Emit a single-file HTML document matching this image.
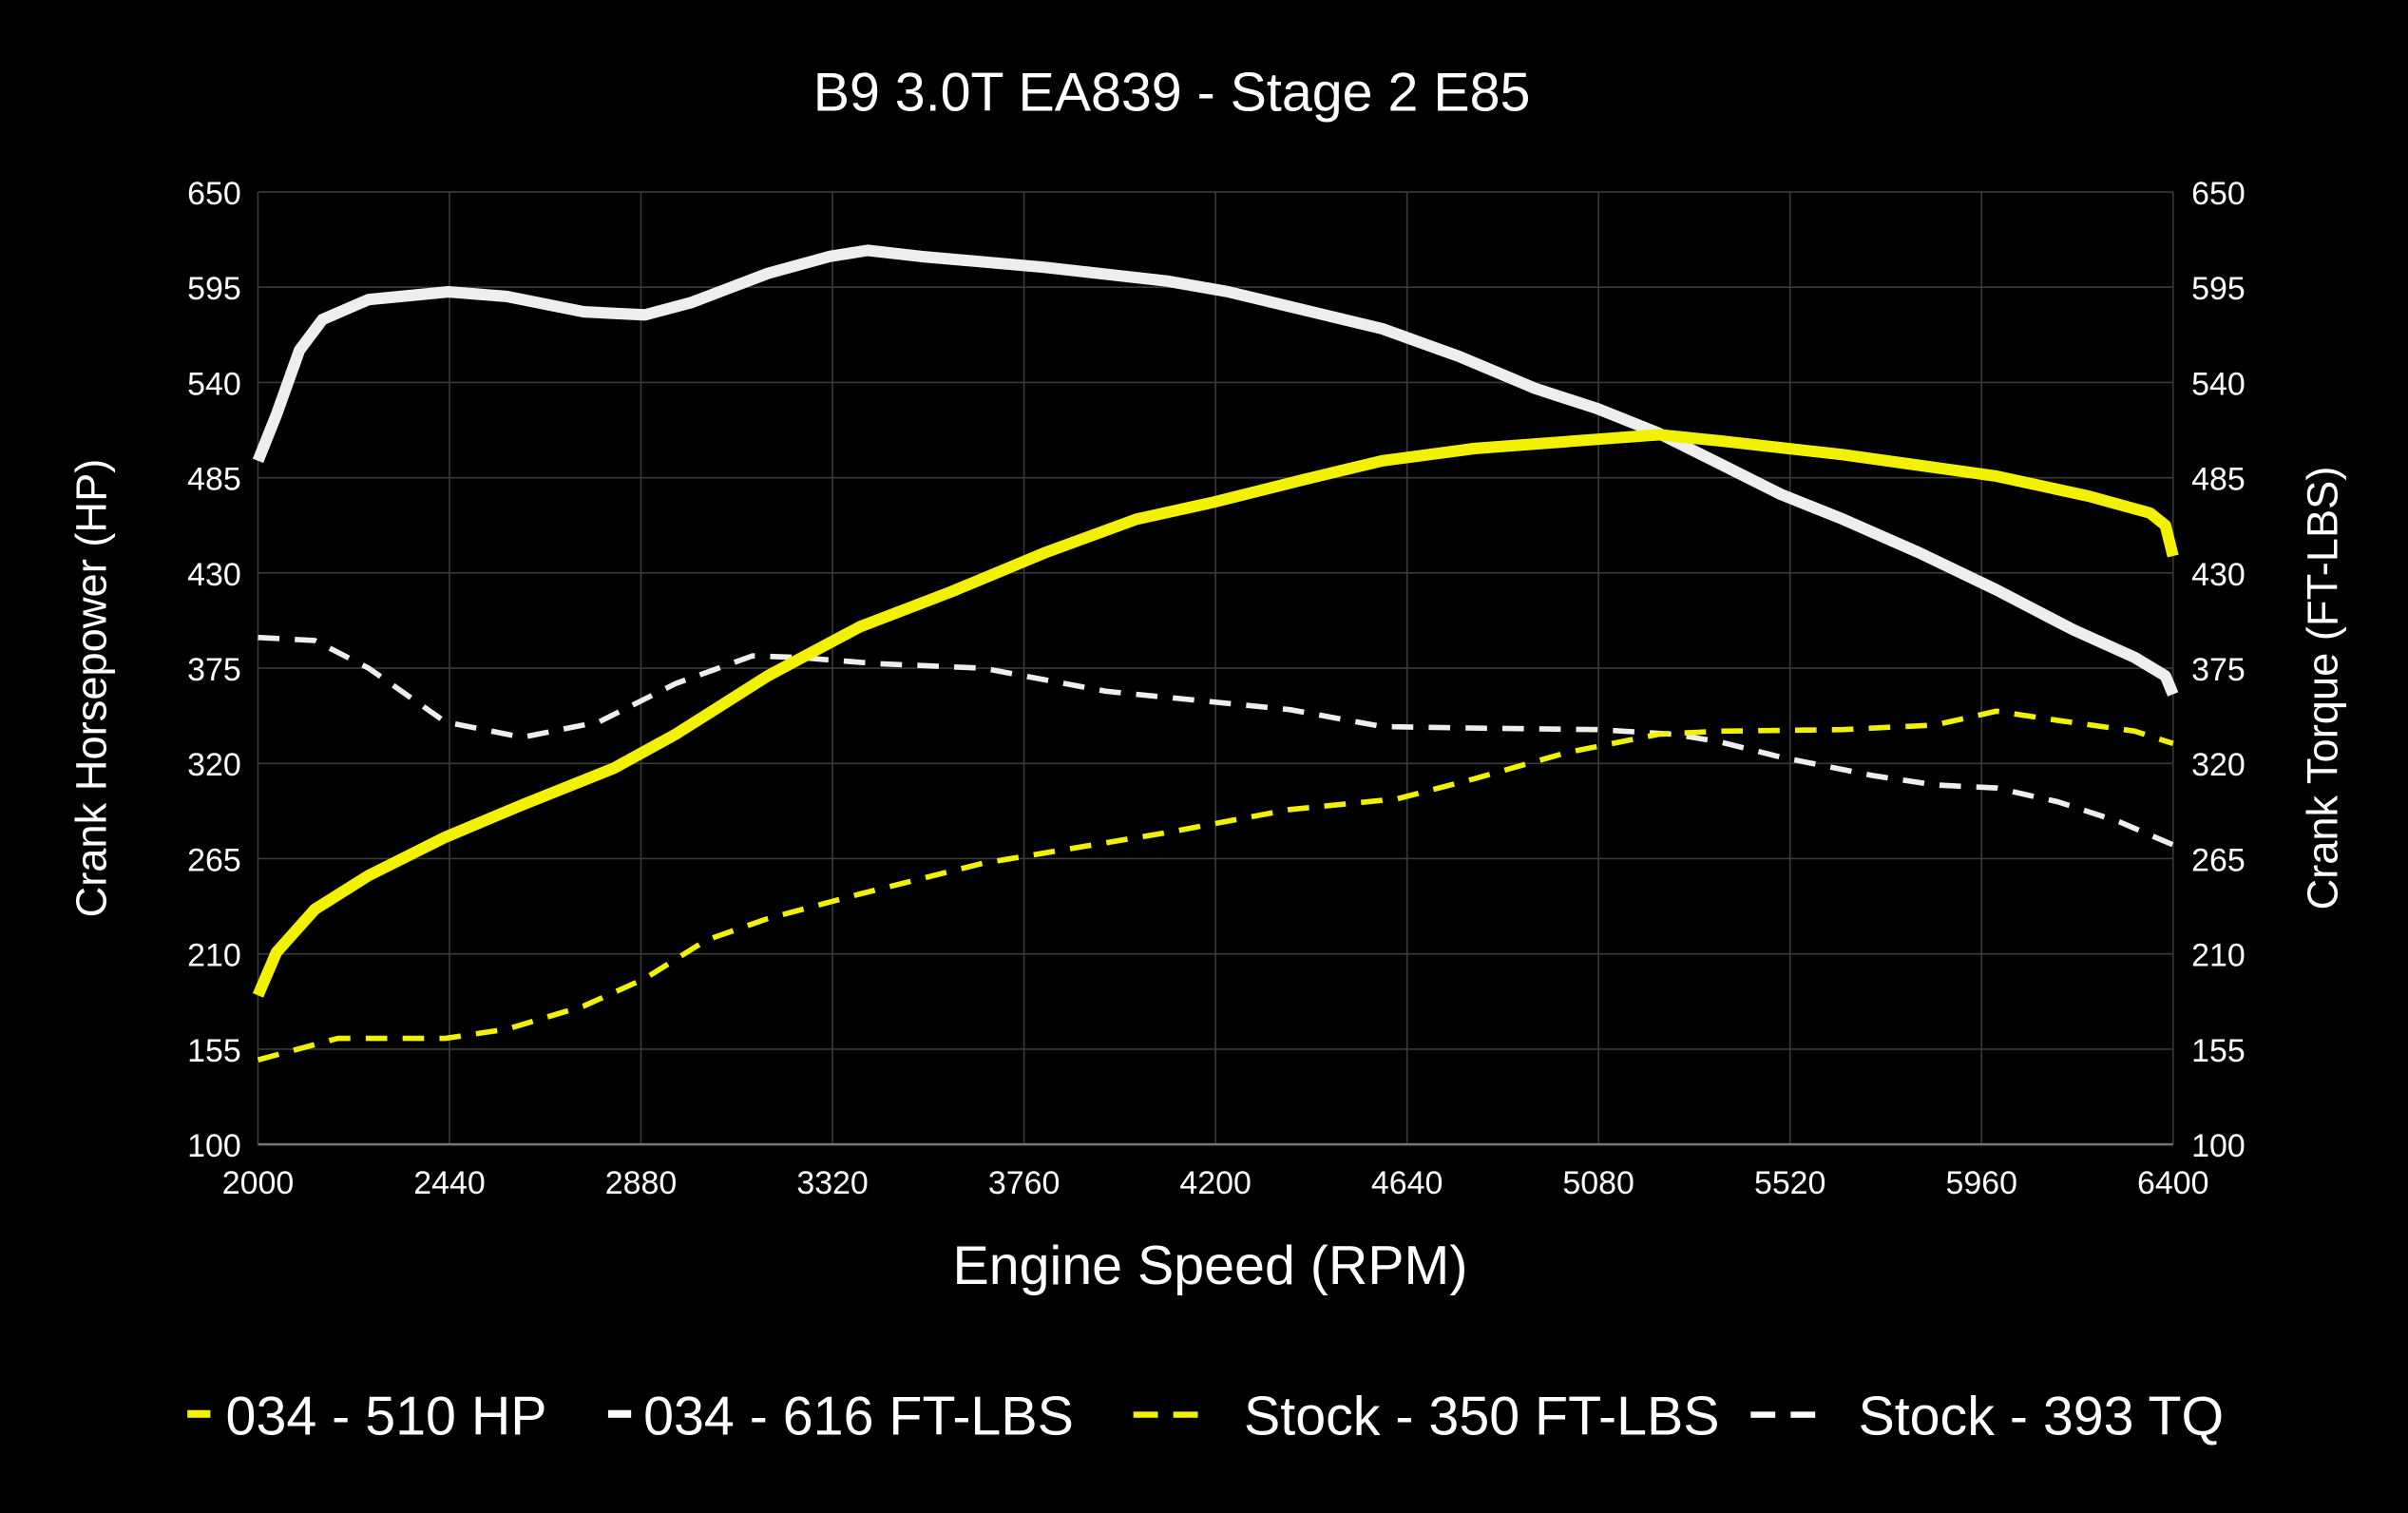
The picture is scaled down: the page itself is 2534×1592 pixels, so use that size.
<!DOCTYPE html>
<html><head><meta charset="utf-8"><style>
html,body{margin:0;padding:0;background:#000;}
svg{display:block;}
text{font-family:"Liberation Sans",sans-serif;fill:#fff;}
</style></head><body>
<svg width="2534" height="1592" viewBox="0 0 1568 985" preserveAspectRatio="none" xmlns="http://www.w3.org/2000/svg">
<rect width="1568" height="985" fill="#000"/>
<g stroke="#3a3a3a" stroke-width="1">
<line x1="168" y1="125" x2="1415" y2="125"/><line x1="168" y1="187" x2="1415" y2="187"/><line x1="168" y1="249" x2="1415" y2="249"/><line x1="168" y1="311" x2="1415" y2="311"/><line x1="168" y1="373" x2="1415" y2="373"/><line x1="168" y1="435" x2="1415" y2="435"/><line x1="168" y1="497" x2="1415" y2="497"/><line x1="168" y1="559" x2="1415" y2="559"/><line x1="168" y1="621" x2="1415" y2="621"/><line x1="168" y1="683" x2="1415" y2="683"/>
<line x1="168" y1="125" x2="168" y2="745"/><line x1="292.7" y1="125" x2="292.7" y2="745"/><line x1="417.4" y1="125" x2="417.4" y2="745"/><line x1="542.1" y1="125" x2="542.1" y2="745"/><line x1="666.8" y1="125" x2="666.8" y2="745"/><line x1="791.5" y1="125" x2="791.5" y2="745"/><line x1="916.2" y1="125" x2="916.2" y2="745"/><line x1="1040.9" y1="125" x2="1040.9" y2="745"/><line x1="1165.6" y1="125" x2="1165.6" y2="745"/><line x1="1290.3" y1="125" x2="1290.3" y2="745"/><line x1="1415" y1="125" x2="1415" y2="745"/>
</g>
<line x1="168" y1="745" x2="1415" y2="745" stroke="#777" stroke-width="1.5"/>
<text x="763" y="72" font-size="35.5" text-anchor="middle">B9 3.0T EA839 - Stage 2 E85</text>
<g font-size="21" text-anchor="end">
<text x="157" y="133">650</text><text x="157" y="195">595</text><text x="157" y="257">540</text><text x="157" y="319">485</text><text x="157" y="381">430</text><text x="157" y="443">375</text><text x="157" y="505">320</text><text x="157" y="567">265</text><text x="157" y="629">210</text><text x="157" y="691">155</text><text x="157" y="753">100</text>
</g>
<g font-size="21" text-anchor="start">
<text x="1427" y="133">650</text><text x="1427" y="195">595</text><text x="1427" y="257">540</text><text x="1427" y="319">485</text><text x="1427" y="381">430</text><text x="1427" y="443">375</text><text x="1427" y="505">320</text><text x="1427" y="567">265</text><text x="1427" y="629">210</text><text x="1427" y="691">155</text><text x="1427" y="753">100</text>
</g>
<g font-size="21" text-anchor="middle">
<text x="168" y="777">2000</text><text x="292.7" y="777">2440</text><text x="417.4" y="777">2880</text><text x="542.1" y="777">3320</text><text x="666.8" y="777">3760</text><text x="791.5" y="777">4200</text><text x="916.2" y="777">4640</text><text x="1040.9" y="777">5080</text><text x="1165.6" y="777">5520</text><text x="1290.3" y="777">5960</text><text x="1415" y="777">6400</text>
</g>
<text x="788" y="836" font-size="35.5" text-anchor="middle">Engine Speed (RPM)</text>
<text transform="translate(69,448) rotate(-90)" font-size="28" text-anchor="middle">Crank Horsepower (HP)</text>
<text transform="translate(1522,448) rotate(-90)" font-size="28" text-anchor="middle">Crank Torque (FT-LBS)</text>
<g fill="none" stroke-linejoin="round" stroke-linecap="butt">
<polyline stroke="#eeeeee" stroke-width="3.5" stroke-dasharray="14,10" points="168,415 205,417 240,435 290,470 340,480 390,470 440,445 490,427 520,428 570,432 640,435 720,450 800,458 840,462 900,473 960,474 1040,475 1090,478 1120,483 1160,493 1220,505 1260,511 1300,513 1340,522 1380,535 1415,550"/>
<polyline stroke="#f2f200" stroke-width="3.5" stroke-dasharray="14,10" points="168,690 220,676 290,676 330,670 380,655 420,637 460,612 500,598 560,582 640,562 700,552 760,542 840,527 910,520 960,507 1020,490 1080,478 1120,476 1200,475 1260,472 1300,463 1340,469 1390,476 1415,484"/>
<polyline stroke="#eeeeee" stroke-width="7.5" points="168,300 180,270 195,228 210,208 240,195 292,190 330,193 380,203 420,205 450,197 500,178 540,167 565,163 600,167 680,174 760,183 800,190 850,202 900,214 950,232 1000,253 1040,266 1080,282 1120,302 1160,322 1200,338 1250,360 1300,384 1350,410 1390,428 1410,440 1415,452"/>
<polyline stroke="#f2f200" stroke-width="7.5" points="168,648 180,620 205,592 240,570 290,545 340,524 400,500 440,478 500,440 560,408 620,385 680,360 740,338 790,327 850,312 900,300 960,292 1040,286 1080,283 1120,287 1200,296 1300,310 1360,323 1400,334 1410,342 1415,362"/>
</g>
<g font-size="35.5">
<rect x="122" y="918" width="15" height="5" fill="#f2f200"/><text x="147" y="934">034 - 510 HP</text>
<rect x="396" y="918" width="15" height="5" fill="#fff"/><text x="419" y="934">034 - 616 FT-LBS</text>
<rect x="738" y="919" width="16" height="4" fill="#f2f200"/><rect x="764" y="919" width="16" height="4" fill="#f2f200"/><text x="810" y="934">Stock - 350 FT-LBS</text>
<rect x="1140" y="919" width="16" height="4" fill="#fff"/><rect x="1166" y="919" width="16" height="4" fill="#fff"/><text x="1210" y="934">Stock - 393 TQ</text>
</g>
</svg>
</body></html>
